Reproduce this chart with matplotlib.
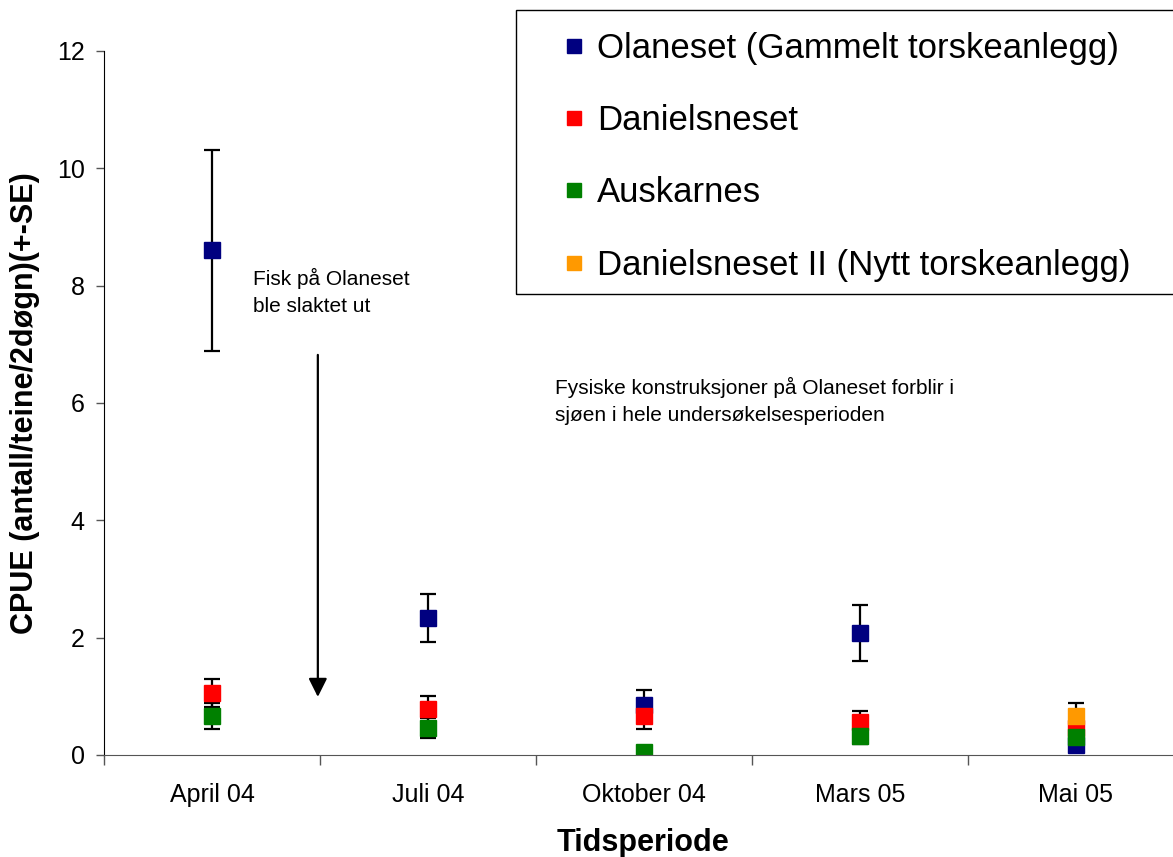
import matplotlib
matplotlib.use('Agg')
import matplotlib.pyplot as plt
from matplotlib.lines import Line2D
from matplotlib.patches import Rectangle
import numpy as np

plt.rcParams['font.family'] = ['Liberation Sans', 'DejaVu Sans']

#------- data -------------------------------
periods = ['April 04', 'Juli 04', 'Oktober 04', 'Mars 05', 'Mai 05']

olaneset = [8.60, 2.33, 0.86, 2.08, 0.17]
olaneset_se = [1.71, 0.41, 0.25, 0.48, 0.08]
danielsneset = [1.06, 0.78, 0.66, 0.56, 0.46]
danielsneset_se = [0.24, 0.22, 0.22, 0.19, 0.10]
auskarnes = [0.66, 0.46, 0.05, 0.33, 0.31]
auskarnes_se = [0.22, 0.17, 0.03, 0.14, 0.10]
danielsneset2 = [np.nan, np.nan, np.nan, np.nan, 0.66]
danielsneset2_se = [np.nan, np.nan, np.nan, np.nan, 0.22]

names = ['Olaneset (Gammelt torskeanlegg)', 'Danielsneset', 'Auskarnes',
         'Danielsneset II (Nytt torskeanlegg)']
colors = ['#000080', '#FF0000', '#008000', '#FF9900']
series = [(olaneset, olaneset_se), (danielsneset, danielsneset_se),
          (auskarnes, auskarnes_se), (danielsneset2, danielsneset2_se)]

#------- figure ------------
W, H = 1173, 857
fig = plt.figure(figsize=(W / 100, H / 100), dpi=100)
ax = fig.add_axes([104 / W, 1 - 755 / H, (W - 104) / W, (755 - 51) / H])

x = np.arange(len(periods))
for (vals, se), c in zip(series, colors):
    ax.errorbar(x, vals, yerr=se, fmt='s', color=c, ms=11, mec=c,
                ecolor='black', elinewidth=1.6, capsize=6, capthick=1.6)

ax.set_xlim(-0.5, -0.5 + (W - 104) / 216)
ax.set_ylim(0, 12)
ax.set_yticks(range(0, 13, 2))
ax.set_xticks(x)
ax.set_xticklabels(periods)
ax.set_xticks(np.arange(-0.5, 4, 1), minor=True)
ax.tick_params(axis='x', which='major', length=0, pad=20, labelsize=18)
ax.tick_params(axis='x', which='minor', length=7, color='#555555', width=1)
ax.tick_params(axis='y', length=6, color='#555555', width=1, pad=8, labelsize=18)

for s in ['top', 'right']:
    ax.spines[s].set_visible(False)
ax.spines['left'].set_color('black')
ax.spines['bottom'].set_color('#555555')

ax.set_xlabel('Tidsperiode', fontsize=22, fontweight='bold')
ax.set_ylabel('CPUE (antall/teine/2døgn)(+-SE)', fontsize=22, fontweight='bold')
ax.xaxis.set_label_coords((643 - 104) / (W - 104), (755 - 828) / 704)
ax.yaxis.set_label_coords((40 - 104) / (W - 104), 0.5)

#------- annotations ------------
ax.text(0.19, 8.3, 'Fisk på Olaneset\nble slaktet ut', fontsize=15, va='top',
        linespacing=1.55)
ax.text(1.59, 6.45, 'Fysiske konstruksjoner på Olaneset forblir i\n'
        'sjøen i hele undersøkelsesperioden', fontsize=15, va='top',
        linespacing=1.55)
ax.annotate('', xy=(0.49, 0.99), xytext=(0.49, 6.82),
            arrowprops=dict(arrowstyle='-|>', color='black', lw=1.6,
                            mutation_scale=28, shrinkA=0, shrinkB=0))

#------- legend ------------
fig.add_artist(Rectangle((516 / W, 1 - 294 / H), 0.6, 284 / H,
                         transform=fig.transFigure, fill=False,
                         edgecolor='black', lw=1))
handles = [Line2D([], [], ls='none', marker='s', ms=9.5, color=c, mec=c)
           for c in colors]
fig.legend(handles, names, loc='upper left', frameon=False,
           bbox_to_anchor=(564 / W, 1 - 32 / H), borderaxespad=0, borderpad=0,
           fontsize=25, handlelength=0.6, handletextpad=0.35, labelspacing=1.13)

fig.savefig('out.png', dpi=100)
